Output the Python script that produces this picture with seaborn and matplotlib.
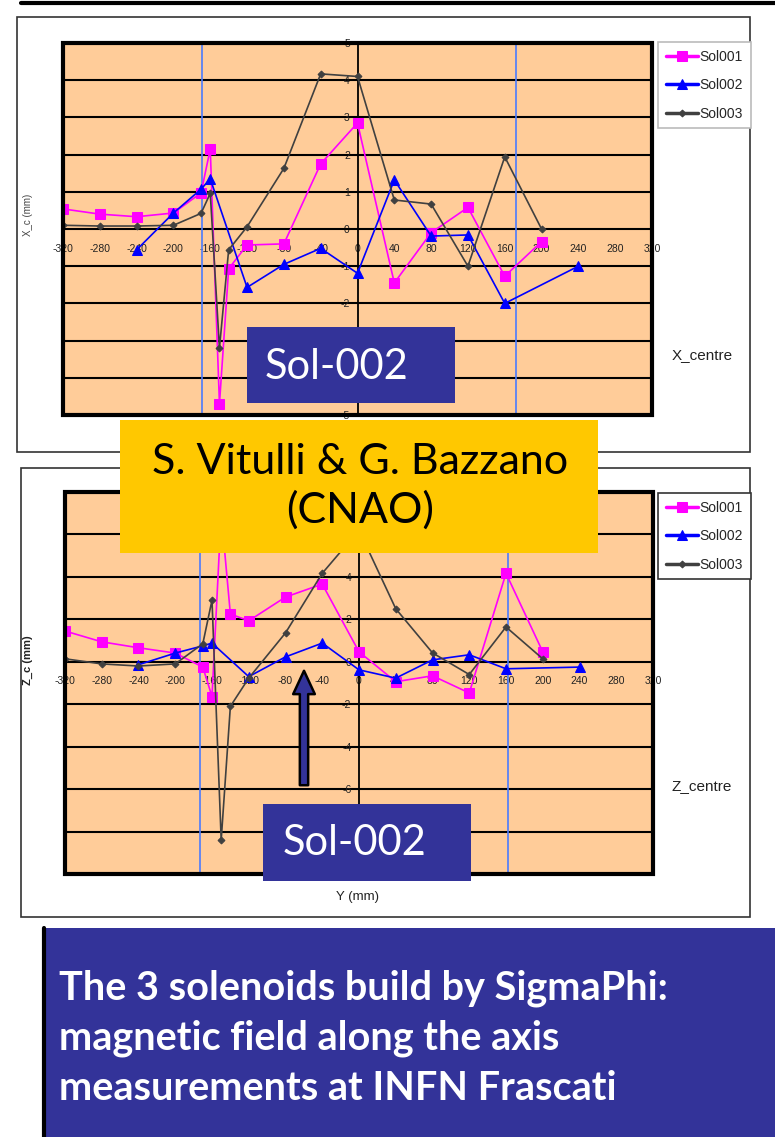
import pandas as pd
import seaborn as sns
import matplotlib.pyplot as plt
from matplotlib.patches import Rectangle

x_full = [-320, -280, -240, -200, -170, -160, -150, -140, -120, -80, -40, 0, 40, 80, 120, 160, 200]
x_sol2 = [-240, -200, -170, -160, -120, -80, -40, 0, 40, 80, 120, 160, 240]

xc_sol001 = [0.54, 0.40, 0.33, 0.43, 0.97, 2.15, -4.7, -1.07, -0.43, -0.40, 1.75, 2.85, -1.45, -0.10, 0.58, -1.27, -0.34]
xc_sol002 = [-0.56, 0.43, 1.07, 1.35, -1.57, -0.95, -0.52, -1.19, 1.32, -0.19, -0.16, -2.0, -1.0]
xc_sol003 = [0.10, 0.08, 0.08, 0.10, 0.42, 0.96, -3.2, -0.56, 0.06, 1.63, 4.17, 4.1, 0.78, 0.67, -1.0, 1.94, 0.0]

zc_sol001 = [1.45, 0.94, 0.66, 0.41, -0.25, -1.64, 7.0, 2.25, 1.93, 3.05, 3.66, 0.47, -0.94, -0.66, -1.47, 4.17, 0.47]
zc_sol002 = [-0.14, 0.41, 0.75, 0.88, -0.70, 0.23, 0.88, -0.38, -0.77, 0.09, 0.33, -0.33, -0.25]
zc_sol003 = [0.14, -0.10, -0.20, -0.10, 0.85, 2.9, -8.4, -2.1, -0.77, 1.36, 4.17, 6.2, 2.5, 0.42, -0.6, 1.64, 0.14]

series_names = ['Sol001', 'Sol002', 'Sol003']
x_ticks = list(range(-320, 321, 40))
xc_ticks = list(range(-5, 6))
zc_ticks = list(range(-10, 9, 2))
edges_top = [-169, 172]
edges_bottom = [-173, 162]

W, H = 775, 1137
colors = {'Sol001': '#FF00FF', 'Sol002': '#0000FF', 'Sol003': '#404040'}
markers = {'Sol001': 's', 'Sol002': '^', 'Sol003': 'D'}
msize = {'Sol001': 6.5, 'Sol002': 7, 'Sol003': 3.5}

sns.set_style('white')
plt.rcParams['font.family'] = ['Liberation Sans', 'DejaVu Sans']

fig = plt.figure(figsize=(W / 100, H / 100), dpi=100)


def fx(x):
    return x / W


def fy(y):
    return 1 - y / H


def box(l, t, r, b, **kw):
    fig.patches.append(Rectangle((fx(l), fy(b)), fx(r - l), (b - t) / H,
                                 transform=fig.transFigure, figure=fig, **kw))


def make_df(xs_list, ys_list):
    rows = []
    for name, xs, ys in zip(series_names, xs_list, ys_list):
        for x, y in zip(xs, ys):
            rows.append({'pos': x, 'val': y, 'series': name})
    return pd.DataFrame(rows)


# top line and chart frames (behind the axes)
fig.add_artist(plt.Line2D([fx(21), fx(775)], [fy(3), fy(3)], color='black', lw=3,
                          transform=fig.transFigure))
box(17, 17, 750, 452, facecolor='white', edgecolor='#333333', lw=1.2, zorder=-5)
box(21, 468, 750, 917, facecolor='white', edgecolor='#333333', lw=1.2, zorder=-5)


def draw_chart(l, t, r, b, df, yticks, edges, leg_top, leg_edge):
    ax = fig.add_axes([fx(l), fy(b), fx(r - l), (b - t) / H])
    ax.set_facecolor('#FFCC99')
    for name in series_names:
        d = df[df['series'] == name]
        sns.lineplot(data=d, x='pos', y='val', ax=ax, color=colors[name],
                     marker=markers[name], markersize=msize[name],
                     markeredgecolor=colors[name], lw=1.2, label=name,
                     estimator=None, zorder=4)
    for e in edges:
        ax.axvline(e, color='#4A7BFF', lw=1.2, zorder=3)
    ax.set_xlim(-320, 320)
    ax.set_ylim(yticks[0], yticks[-1])
    ax.set_xticks(x_ticks)
    ax.set_yticks(yticks)
    ax.set_xticklabels([str(v) for v in x_ticks])
    ax.set_yticklabels([str(v) for v in yticks])
    ax.yaxis.grid(True, color='black', lw=1.5)
    ax.xaxis.grid(False)
    ax.set_axisbelow(True)
    for s in ['top', 'right']:
        ax.spines[s].set_visible(False)
    ax.spines['left'].set_position(('data', 0))
    ax.spines['bottom'].set_position(('data', 0))
    ax.spines['left'].set_linewidth(1.3)
    ax.spines['bottom'].set_linewidth(1.3)
    ax.spines['left'].set_color('black')
    ax.spines['bottom'].set_color('black')
    ax.tick_params(axis='both', direction='inout', length=5, width=1,
                   labelsize=7.5, colors='black', labelcolor='#222222')
    ax.tick_params(axis='x', pad=8)
    ax.tick_params(axis='y', pad=3)
    ax.add_patch(Rectangle((0, 0), 1, 1, transform=ax.transAxes, fill=False,
                           lw=3, ec='black', clip_on=False, zorder=6))
    ax.set_xlabel('')
    ax.set_ylabel('')
    leg = ax.legend(loc='upper left', bbox_to_anchor=(fx(658), fy(leg_top)),
                    bbox_transform=fig.transFigure, fontsize=10, frameon=True,
                    fancybox=False, edgecolor=leg_edge, framealpha=1,
                    handlelength=2.3, labelspacing=1.05, borderpad=0.55,
                    handletextpad=0.15, borderaxespad=0)
    leg.get_frame().set_linewidth(1.2)
    for h in leg.legend_handles:
        h.set_linewidth(2.5)
    return ax


top_df = make_df([x_full, x_sol2, x_full], [xc_sol001, xc_sol002, xc_sol003])
bot_df = make_df([x_full, x_sol2, x_full], [zc_sol001, zc_sol002, zc_sol003])

ax1 = draw_chart(63, 43, 652, 415, top_df, xc_ticks, edges_top, 42, '#BBBBBB')
ax2 = draw_chart(65, 492, 653, 874, bot_df, zc_ticks, edges_bottom, 493, '#333333')

# axis captions
fig.text(fx(28), fy(215), 'X_c (mm)', rotation=90, ha='center', va='center',
         fontsize=7, color='#444444')
fig.text(fx(28), fy(660), 'Z_c (mm)', rotation=90, ha='center', va='center',
         fontsize=8, color='#222222', fontweight='bold')
fig.text(fx(672), fy(355), 'X_centre', ha='left', va='center', fontsize=11,
         color='#222222')
fig.text(fx(672), fy(786), 'Z_centre', ha='left', va='center', fontsize=11,
         color='#222222')
fig.text(fx(358), fy(897), 'Y (mm)', ha='center', va='center', fontsize=9.5,
         color='#222222')

# slide overlays
slide_font = ['Lato', 'DejaVu Sans']
box(247, 327, 455, 403, facecolor='#333399', edgecolor='none', zorder=10)
fig.text(fx(265), fy(367), 'Sol-002', ha='left', va='center', fontsize=30,
         color='white', family=slide_font, zorder=11)

box(120, 420, 598, 553, facecolor='#FFC800', edgecolor='none', zorder=10)
fig.text(fx(360), fy(462), 'S. Vitulli & G. Bazzano', ha='center', va='center',
         fontsize=31, color='black', family=slide_font, zorder=11)
fig.text(fx(360), fy(510), '(CNAO)', ha='center', va='center',
         fontsize=31, color='black', family=slide_font, zorder=11)

box(263, 804, 471, 881, facecolor='#333399', edgecolor='none', zorder=10)
fig.text(fx(283), fy(843), 'Sol-002', ha='left', va='center', fontsize=30,
         color='white', family=slide_font, zorder=11)

fig.add_artist(plt.Annotation('', xy=(fx(304), fy(668)), xytext=(fx(304), fy(788)),
                              xycoords='figure fraction', textcoords='figure fraction',
                              arrowprops=dict(arrowstyle='simple,head_width=1.3,head_length=1.4,tail_width=0.5',
                                              mutation_scale=12, fc='#333399', ec='black', lw=1.8),
                              zorder=12))

box(43, 928, 775, 1137, facecolor='#333399', edgecolor='none', zorder=10)
fig.add_artist(plt.Line2D([fx(44), fx(44)], [fy(928), fy(1137)], color='black', lw=3,
                          transform=fig.transFigure, zorder=11))
for i, line in enumerate(['The 3 solenoids build by SigmaPhi:',
                          'magnetic field along the axis',
                          'measurements at INFN Frascati']):
    fig.text(fx(59), fy(988 + 50 * i), line, ha='left', va='center', fontsize=28.5,
             color='white', fontweight='bold', family=slide_font, zorder=11)

fig.savefig('out.png', dpi=100)
